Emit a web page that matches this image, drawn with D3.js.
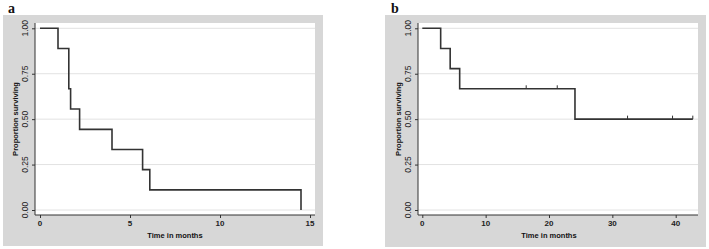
<!DOCTYPE html>
<html>
<head>
<meta charset="utf-8">
<script src="https://cdn.jsdelivr.net/npm/d3@7"></script>
<style>
  body { margin: 0; background: #fff; }
  svg { display: block; }
</style>
</head>
<body>
<div id="center"></div>
<script>
// panel a
const timesA = [0, 1.0, 1.6, 1.7, 2.2, 4.0, 5.7, 6.1, 14.5];
const survA = [1, 0.889, 0.667, 0.556, 0.444, 0.333, 0.222, 0.111, 0];
const censorTimesA = [];
const censorSurvA = [];
const xTicksA = [0, 5, 10, 15];

// panel b
const timesB = [0, 2.9, 4.4, 5.9, 24.1, 42.7];
const survB = [1, 0.889, 0.778, 0.667, 0.5, 0.5];
const censorTimesB = [16.4, 21.3, 32.4, 39.5, 42.7];
const censorSurvB = [0.667, 0.667, 0.5, 0.5, 0.5];
const xTicksB = [0, 10, 20, 30, 40];

const yTicks = [0, 0.25, 0.5, 0.75, 1];
const yTickLabels = ["0.00", "0.25", "0.50", "0.75", "1.00"];

const width = 709, height = 249;
const svg = d3.select("#center").append("svg")
    .attr("width", width)
    .attr("height", height)
    .style("font-family", "'Liberation Sans', Arial, sans-serif");

function panel(cfg) {
    const g = svg.append("g");
    // gray graph region
    g.append("rect")
        .attr("x", cfg.gx).attr("y", 15)
        .attr("width", cfg.gw).attr("height", cfg.gh)
        .attr("fill", "#d7d7d7");
    // white plot region
    g.append("rect")
        .attr("x", cfg.px0).attr("y", 23)
        .attr("width", cfg.px1 - cfg.px0).attr("height", 215 - 23)
        .attr("fill", "#fff");

    const x = d3.scaleLinear().domain([0, cfg.xmax]).range([cfg.x0, cfg.x1]);
    const y = d3.scaleLinear().domain([0, 1]).range([210, 28.3]);

    // grid lines
    g.selectAll(".grid")
        .data(yTicks)
        .enter()
        .append("line")
        .attr("x1", cfg.px0).attr("x2", cfg.px1)
        .attr("y1", function (d) { return y(d); })
        .attr("y2", function (d) { return y(d); })
        .attr("stroke", "#e2e2e2")
        .attr("stroke-width", 1);

    // axes
    const axisY = d3.axisLeft(y).tickValues(yTicks).tickSize(3).tickFormat("");
    const gy = g.append("g")
        .attr("transform", "translate(" + cfg.px0 + ",0)")
        .call(axisY);
    gy.select(".domain").remove();
    gy.selectAll("line").attr("stroke", "#333");

    const axisX = d3.axisBottom(x).tickValues(cfg.xTicks).tickSize(3).tickFormat("");
    const gx = g.append("g")
        .attr("transform", "translate(0,215)")
        .call(axisX);
    gx.select(".domain").remove();
    gx.selectAll("line").attr("stroke", "#333");

    g.append("line")
        .attr("x1", cfg.px0).attr("x2", cfg.px0)
        .attr("y1", 23).attr("y2", 215)
        .attr("stroke", "#333").attr("stroke-width", 1);
    g.append("line")
        .attr("x1", cfg.px0).attr("x2", cfg.px1)
        .attr("y1", 215).attr("y2", 215)
        .attr("stroke", "#333").attr("stroke-width", 1);

    // tick labels
    g.selectAll(".ylab")
        .data(yTicks)
        .enter()
        .append("text")
        .attr("transform", function (d) {
            return "translate(" + (cfg.px0 - 7) + "," + y(d) + ") rotate(-90)";
        })
        .attr("text-anchor", "middle")
        .attr("font-size", "8.5px")
        .attr("fill", "#222")
        .text(function (d, i) { return yTickLabels[i]; });

    g.selectAll(".xlab")
        .data(cfg.xTicks)
        .enter()
        .append("text")
        .attr("x", function (d) { return x(d); })
        .attr("y", 226)
        .attr("text-anchor", "middle")
        .attr("font-size", "8px")
        .attr("font-weight", "bold")
        .attr("fill", "#222")
        .text(function (d) { return d; });

    // titles
    g.append("text")
        .attr("x", (cfg.x0 + cfg.x1) / 2)
        .attr("y", 238)
        .attr("text-anchor", "middle")
        .attr("font-size", "7.5px")
        .attr("font-weight", "bold")
        .attr("fill", "#111")
        .text("Time in months");
    g.append("text")
        .attr("transform", "translate(" + (cfg.px0 - 17) + ",119) rotate(-90)")
        .attr("text-anchor", "middle")
        .attr("font-size", "7.5px")
        .attr("font-weight", "bold")
        .attr("fill", "#111")
        .text("Proportion surviving");

    // panel letter
    g.append("text")
        .attr("x", cfg.lx).attr("y", 13)
        .attr("font-family", "'Liberation Serif', 'Times New Roman', serif")
        .attr("font-size", "14px")
        .attr("font-weight", "bold")
        .attr("fill", "#111")
        .text(cfg.letter);

    // survival curve
    const pts = cfg.times.map(function (t, i) { return [t, cfg.surv[i]]; });
    const line = d3.line()
        .x(function (d) { return x(d[0]); })
        .y(function (d) { return y(d[1]); })
        .curve(d3.curveStepAfter);
    g.append("path")
        .attr("d", line(pts))
        .attr("fill", "none")
        .attr("stroke", "#333")
        .attr("stroke-width", 1.6);

    // censor marks
    g.selectAll(".cens")
        .data(cfg.cTimes)
        .enter()
        .append("line")
        .attr("x1", function (d) { return x(d); })
        .attr("x2", function (d) { return x(d); })
        .attr("y1", function (d, i) { return y(cfg.cSurv[i]); })
        .attr("y2", function (d, i) { return y(cfg.cSurv[i]) - 3.5; })
        .attr("stroke", "#333")
        .attr("stroke-width", 1);
}

panel({
    letter: "a", lx: 8,
    gx: 3, gw: 320, gh: 231,
    px0: 35, px1: 315,
    x0: 40, x1: 310, xmax: 15, xTicks: xTicksA,
    times: timesA, surv: survA,
    cTimes: censorTimesA, cSurv: censorSurvA
});

panel({
    letter: "b", lx: 391,
    gx: 385, gw: 321, gh: 232,
    px0: 418, px1: 698,
    x0: 422.3, x1: 675.7, xmax: 40, xTicks: xTicksB,
    times: timesB, surv: survB,
    cTimes: censorTimesB, cSurv: censorSurvB
});
</script>
</body>
</html>
